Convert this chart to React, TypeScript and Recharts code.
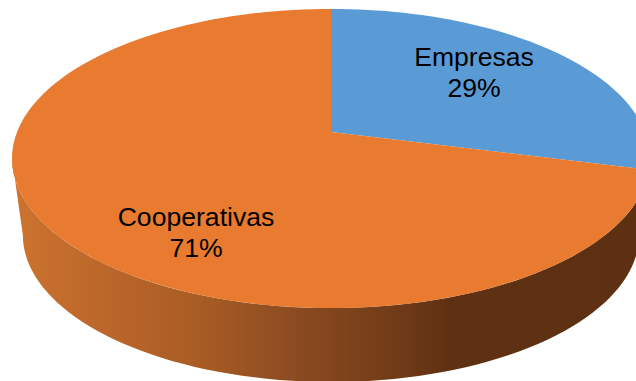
import React from 'react';
import { PieChart, Pie, Cell } from 'recharts';

const categories = ['Empresas', 'Cooperativas'];
const shares = [29, 71];
const topColors = ['#5B9BD5', '#E97B30'];
const wallFills = ['#2F4F6E', 'url(#wallShade)'];

const tableData = categories.map((name, i) => ({ name, value: shares[i] }));

// Tilted disc: the far edge is foreshortened, so the centre sits above the middle of the ellipse.
const PERSPECTIVE = 0.177;
const SQUASH = 0.469;
const WALL_DROP = 76.5;
const BASE_SCALE = 0.966;
const BASE_SQUASH = 0.477;

const project = (clockwiseDeg: number, cx: number, cy: number, rx: number, ry: number) => {
    const t = (clockwiseDeg * Math.PI) / 180;
    const u = Math.sin(t);
    const v = Math.cos(t);
    const p = PERSPECTIVE;
    const a = rx * Math.sqrt(1 - p * p);
    const b = ry * (1 - p * p);
    const w = 1 + p * v;
    return { x: cx + (a * u) / w, y: cy - ry * p - (b * v) / w };
};

const arcPoints = (from: number, to: number, cx: number, cy: number, rx: number, ry: number) => {
    const steps = Math.max(2, Math.ceil(Math.abs(to - from) / 2));
    const points = [];
    for (let i = 0; i <= steps; i++) {
        const { x, y } = project(from + ((to - from) * i) / steps, cx, cy, rx, ry);
        points.push(`${x.toFixed(2)} ${y.toFixed(2)}`);
    }
    return points;
};

// Slice angles arrive counter-clockwise from 3 o'clock; here they run clockwise from 12 o'clock.
const toClockwise = (deg: number) => 90 - deg;

const TopSlice = (props: any) => {
    const { cx, cy, outerRadius, startAngle, endAngle, fill } = props;
    const rim = arcPoints(toClockwise(startAngle), toClockwise(endAngle), cx, cy, outerRadius, outerRadius * SQUASH);
    const apex = cy - outerRadius * SQUASH * PERSPECTIVE;
    return <path d={`M ${cx} ${apex} L ${rim.join(' L ')} Z`} fill={fill} stroke="none" />;
};

const WallSlice = (props: any) => {
    const { cx, cy, outerRadius, startAngle, endAngle, fill } = props;
    const ry = outerRadius * SQUASH;
    // Only the front of the rim is visible, between the two silhouette points.
    const sideAngle = (Math.acos(-PERSPECTIVE) * 180) / Math.PI;
    const from = Math.max(toClockwise(startAngle), sideAngle);
    const to = Math.min(toClockwise(endAngle), 360 - sideAngle);
    if (to <= from) return null;
    const upper = arcPoints(from, to, cx, cy, outerRadius, ry);
    const lower = arcPoints(to, from, cx, cy + WALL_DROP, outerRadius * BASE_SCALE, outerRadius * BASE_SCALE * BASE_SQUASH);
    return <path d={`M ${upper.join(' L ')} L ${lower.join(' L ')} Z`} fill={fill} stroke="none" />;
};

const labelAnchors = [
    { x: 474, y: 66 },
    { x: 196, y: 226 },
];

const renderLabel = (props: any) => {
    const { index, name, percent } = props;
    const anchor = labelAnchors[index];
    return (
        <text
            x={anchor.x}
            y={anchor.y}
            textAnchor="middle"
            fill="#000000"
            fontFamily="Liberation Sans, Arial, sans-serif"
            fontSize={26.6}
        >
            <tspan x={anchor.x}>{name}</tspan>
            <tspan x={anchor.x} dy={31}>{`${Math.round(percent * 100)}%`}</tspan>
        </text>
    );
};

const App = () => {
    return (
        <div style={{ position: 'absolute', left: 0, top: 0, width: 636, height: 381, background: '#FFFFFF' }}>
            <PieChart width={636} height={381} margin={{ top: 0, right: 0, bottom: 0, left: 0 }}>
                <defs>
                    <linearGradient id="wallShade" gradientUnits="userSpaceOnUse" x1="13" y1="0" x2="636" y2="0">
                        <stop offset="0" stopColor="#CC732E" />
                        <stop offset="0.15" stopColor="#BB662A" />
                        <stop offset="0.30" stopColor="#A85C24" />
                        <stop offset="0.46" stopColor="#8A4A20" />
                        <stop offset="0.62" stopColor="#703A17" />
                        <stop offset="0.70" stopColor="#5F3113" />
                        <stop offset="1" stopColor="#5D3012" />
                    </linearGradient>
                </defs>
                {/* Rim first, so the top face covers its upper edge */}
                <Pie
                    data={tableData}
                    dataKey="value"
                    nameKey="name"
                    cx={331}
                    cy={158.5}
                    innerRadius={0}
                    outerRadius={319}
                    startAngle={90}
                    endAngle={-270}
                    paddingAngle={0}
                    stroke="none"
                    shape={WallSlice}
                    isAnimationActive={false}
                >
                    {wallFills.map((fill, index) => (
                        <Cell key={`wall-${index}`} fill={fill} />
                    ))}
                </Pie>
                <Pie
                    data={tableData}
                    dataKey="value"
                    nameKey="name"
                    cx={331}
                    cy={158.5}
                    innerRadius={0}
                    outerRadius={319}
                    startAngle={90}
                    endAngle={-270}
                    paddingAngle={0}
                    stroke="none"
                    shape={TopSlice}
                    label={renderLabel}
                    labelLine={false}
                    isAnimationActive={false}
                >
                    {topColors.map((fill, index) => (
                        <Cell key={`top-${index}`} fill={fill} />
                    ))}
                </Pie>
            </PieChart>
        </div>
    );
};

export default App;
